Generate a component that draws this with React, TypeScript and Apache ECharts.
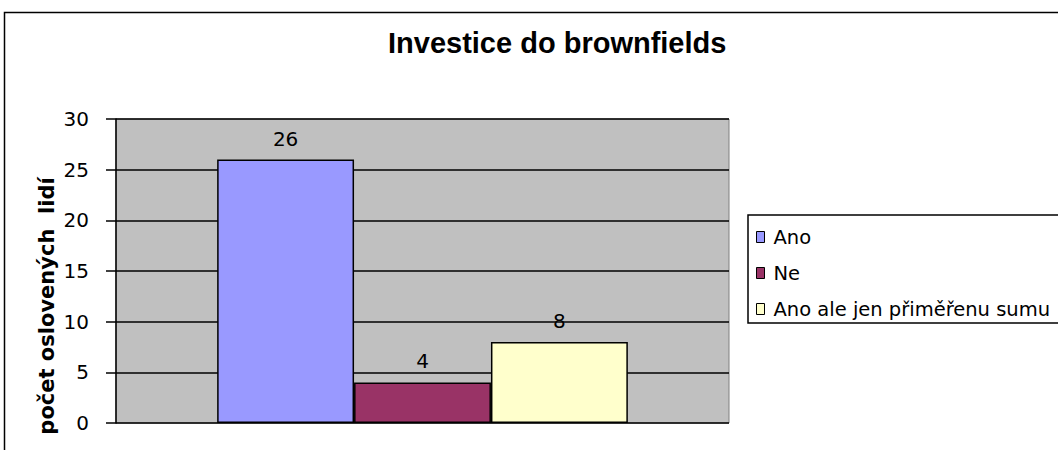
import React, { useEffect, useRef } from "react";
import * as echarts from "echarts";

const categories = [""];
const seriesNames = ["Ano", "Ne", "Ano ale jen přiměřenu sumu"];
const seriesValues = [[26], [4], [8]];
const seriesColors = ["#9999FF", "#993366", "#FFFFCC"];
const chartTitle = "Investice do brownfields";
const yAxisTitle = "počet oslovených  lidí";

const FONT = "'DejaVu Sans', sans-serif";
const TITLE_FONT = "'Liberation Sans', Arial, sans-serif";

export default function App() {
  const ref = useRef<HTMLDivElement>(null);
  useEffect(() => {
    if (!ref.current) return;
    const chart = echarts.init(ref.current, null, { renderer: "svg" });
    chart.setOption({
      animation: false,
      backgroundColor: "#ffffff",
      title: {
        text: chartTitle,
        left: 388,
        top: 28,
        padding: 0,
        textStyle: { fontFamily: TITLE_FONT, fontSize: 29, fontWeight: "bold", color: "#000" },
      },
      graphic: [
        {
          type: "rect",
          z: -10,
          shape: { x: 4.5, y: 12.5, width: 1200, height: 600 },
          style: { fill: "none", stroke: "#000", lineWidth: 1.5 },
        },
        {
          type: "text",
          x: 47,
          y: 306,
          rotation: Math.PI / 2,
          style: {
            text: yAxisTitle,
            fontFamily: FONT,
            fontSize: 21,
            fontWeight: "bold",
            fill: "#000",
            align: "center",
            verticalAlign: "middle",
          },
        },
      ],
      legend: {
        orient: "vertical",
        left: 748,
        top: 215,
        padding: [12, 14, 4, 8],
        itemGap: 16,
        itemWidth: 8,
        itemHeight: 11,
        borderColor: "#000",
        borderWidth: 1.5,
        icon: "rect",
        backgroundColor: "#fff",
        itemStyle: { borderColor: "#000", borderWidth: 1 },
        textStyle: {
          fontFamily: FONT,
          fontSize: 19.5,
          color: "#000",
          lineHeight: 20,
          padding: [0, 0, 0, 4],
        },
        data: seriesNames,
      },
      grid: {
        left: 116,
        top: 119,
        width: 613,
        height: 304,
        show: true,
        backgroundColor: "#C0C0C0",
        borderColor: "#808080",
        borderWidth: 1,
      },
      xAxis: {
        type: "category",
        data: categories,
        axisLine: { show: false },
        axisTick: { show: false },
        axisLabel: { show: false },
      },
      yAxis: {
        type: "value",
        min: 0,
        max: 30,
        interval: 5,
        axisLine: { show: true, lineStyle: { color: "#000", width: 1.5 } },
        axisTick: { show: true, inside: false, length: 10, lineStyle: { color: "#000", width: 1.5 } },
        axisLabel: { margin: 27, fontFamily: FONT, fontSize: 20, color: "#000" },
        splitLine: { show: true, lineStyle: { color: "#000", width: 1.5 } },
      },
      series: seriesNames.map((name, i) => ({
        name,
        type: "bar",
        data: seriesValues[i],
        barGap: "0%",
        barCategoryGap: "33%",
        itemStyle: { color: seriesColors[i], borderColor: "#000", borderWidth: 1.5 },
        label: {
          show: true,
          position: "top",
          distance: 11,
          fontFamily: FONT,
          fontSize: 20,
          color: "#000",
        },
      })),
    });
    return () => chart.dispose();
  }, []);
  return (
    <div
      ref={ref}
      style={{ position: "absolute", left: 0, top: 0, width: 1058, height: 450 }}
    />
  );
}
